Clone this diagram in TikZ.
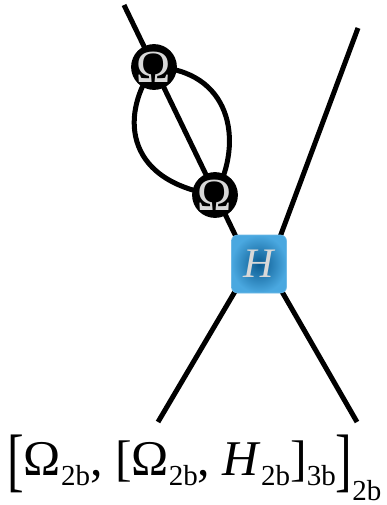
\documentclass[tikz,border=0pt]{standalone}
\usepackage{fontspec}
\setmainfont{Liberation Serif}
\usepackage{graphicx}
\usetikzlibrary{backgrounds}
\definecolor{hinner}{HTML}{0A5A90}
\definecolor{houter}{HTML}{4AA8E0}
\definecolor{glyphgrey}{HTML}{D8D8D8}
\newcommand{\sbx}[1]{\raisebox{-10pt}{\fontsize{29}{29}\selectfont #1}}
\tikzset{
  omeganode/.style={circle, fill=black, inner sep=0pt, minimum size=44pt,
    text=glyphgrey, font=\fontsize{46}{46}\selectfont},
  hbox/.style={rectangle, rounded corners=6pt, minimum width=55pt, minimum height=58pt,
    inner sep=0pt, inner color=hinner, outer color=houter, draw=houter!80!white, line width=0.6pt,
    text=glyphgrey, font=\fontsize{42}{42}\selectfont\itshape},
  leg/.style={line width=5pt, black},
  loopline/.style={line width=5pt, black},
  formula/.style={inner sep=0pt, anchor=base west, font=\fontsize{50}{50}\selectfont}
}
\begin{document}
\begin{tikzpicture}[x=1pt, y=-1pt]
\useasboundingbox (0,0) rectangle (387,505);
\node[omeganode] (o1) at (154,67) {Ω};
\node[omeganode] (o2) at (215,195) {Ω};
\node[hbox] (H) at (259,264) {H};
\coordinate (tl) at (124,5);
\coordinate (tr) at (358,28);
\coordinate (bl) at (158,422);
\coordinate (br) at (357,422);
\coordinate (hTL) at (240,245);
\coordinate (hTR) at (277,245);
\coordinate (hBL) at (240,283);
\coordinate (hBR) at (277,283);
\begin{pgfonlayer}{background}
\draw[leg] (tl) -- (hTL);
\draw[leg] (tr) -- (hTR);
\draw[leg] (bl) -- (hBL);
\draw[leg] (br) -- (hBR);
\draw[loopline] (o1.center) .. controls (122,110) and (120,180) .. (o2.center);
\draw[loopline] (o1.center) .. controls (230,70) and (245,140) .. (o2.center);
\end{pgfonlayer}
\node[formula] (f) at (7,475) {\raisebox{-8pt}{\scalebox{1}[1.4]{[}}Ω\sbx{2b}, [Ω\sbx{2b}, \textit{H}\sbx{2b}]\sbx{3b}\raisebox{-8pt}{\scalebox{1}[1.4]{]}}\raisebox{-25pt}{\fontsize{29}{29}\selectfont 2b}};
\end{tikzpicture}
\end{document}
